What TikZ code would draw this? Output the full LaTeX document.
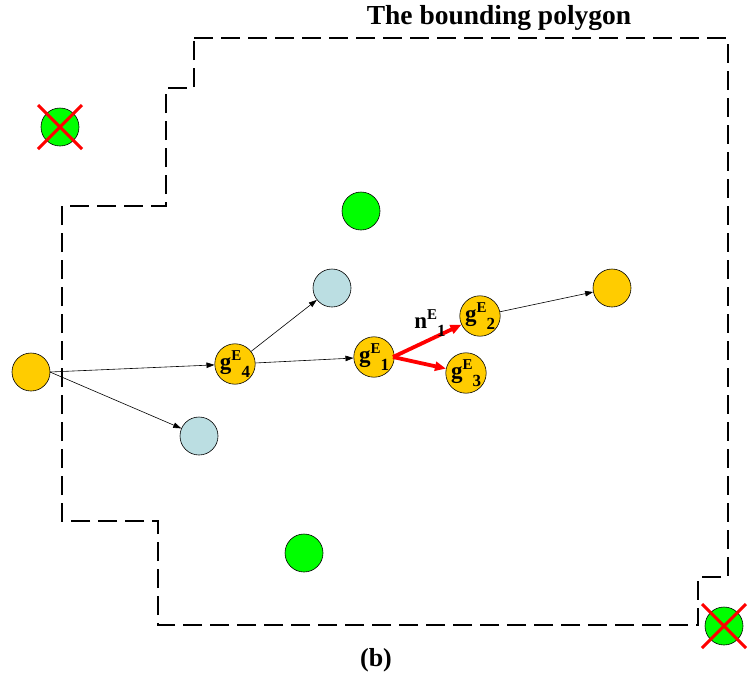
\documentclass[tikz,border=0pt]{standalone}
\usepackage{fontspec}
\setmainfont{Liberation Serif}
\usetikzlibrary{arrows.meta,calc}
\definecolor{gold}{HTML}{FFCC00}
\definecolor{paleblue}{HTML}{BBDEE2}
\definecolor{brightgreen}{HTML}{00FF00}
\tikzset{
  dot/.style={circle, draw=black, line width=0.6pt, minimum size=38pt, inner sep=0pt, font=\fontsize{23}{23}\selectfont\bfseries},
  golddot/.style={dot, fill=gold},
  bluedot/.style={dot, fill=paleblue},
  greendot/.style={dot, fill=brightgreen},
  link/.style={-{Triangle[length=8pt,width=5.5pt]}, line width=0.6pt},
  redlink/.style={-{Triangle[length=11pt,width=9pt]}, line width=3.8pt, red},
  cross/.style={red, line width=3pt},
  boundary/.style={line width=2.2pt, dash pattern=on 19pt off 8pt}
}
\newcommand{\glabel}[1]{g\raisebox{0.42em}{\fontsize{15}{15}\selectfont E}\raisebox{-0.33em}{\fontsize{17}{17}\selectfont #1}}
\begin{document}
\begin{tikzpicture}[x=1pt,y=-1pt]
\useasboundingbox (0,0) rectangle (747,681);

% bounding polygon
\draw[boundary] (194,38) -- (728,38) -- (728,577) -- (698,577) -- (698,625)
  -- (158,625) -- (158,521) -- (62,521) -- (62,206) -- (166,206) -- (166,88)
  -- (194,88) -- cycle;
\node[font=\fontsize{27.5}{30}\selectfont\bfseries] (title) at (499,18) {The bounding polygon};
\node[font=\fontsize{26}{30}\selectfont\bfseries] (caption) at (376,660) {(b)};

% points
\node[greendot] (x1) at (60,127) {};
\node[greendot] (x2) at (724,626) {};
\node[greendot] (gr1) at (361,211) {};
\node[greendot] (gr2) at (304,553) {};
\node[golddot] (s) at (31,372) {};
\node[bluedot] (b1) at (199,436) {};
\node[bluedot] (b2) at (332,288) {};
\node[golddot] (g4) at (235,364) {\glabel{4}};
\node[golddot] (g1) at (374,357) {\glabel{1}};
\node[golddot] (g2) at (480,316) {\glabel{2}};
\node[golddot] (g3) at (466,373) {\glabel{3}};
\node[golddot] (t) at (612,288) {};

% crossed-out points
\draw[cross] ($(x1)+(-22,-22)$) -- ($(x1)+(22,22)$);
\draw[cross] ($(x1)+(22,-22)$) -- ($(x1)+(-22,22)$);
\draw[cross] ($(x2)+(-22,-22)$) -- ($(x2)+(22,22)$);
\draw[cross] ($(x2)+(22,-22)$) -- ($(x2)+(-22,22)$);

% connectors
\coordinate (so) at (50,372);
\draw[link] (so) -- (g4);
\draw[link] (so) -- (b1);
\draw[link] (g4) -- (b2);
\draw[link] (g4) -- (g1);
\draw[link] (g2) -- (t);
\coordinate (g1o) at (393,357);
\draw[redlink] (g1o) -- (g2);
\draw[redlink] (g1o) -- (g3);
\node[font=\fontsize{23}{23}\selectfont\bfseries] (nlabel) at (430,323) {n\raisebox{0.42em}{\fontsize{15}{15}\selectfont E}\raisebox{-0.33em}{\fontsize{17}{17}\selectfont 1}};
\end{tikzpicture}
\end{document}
